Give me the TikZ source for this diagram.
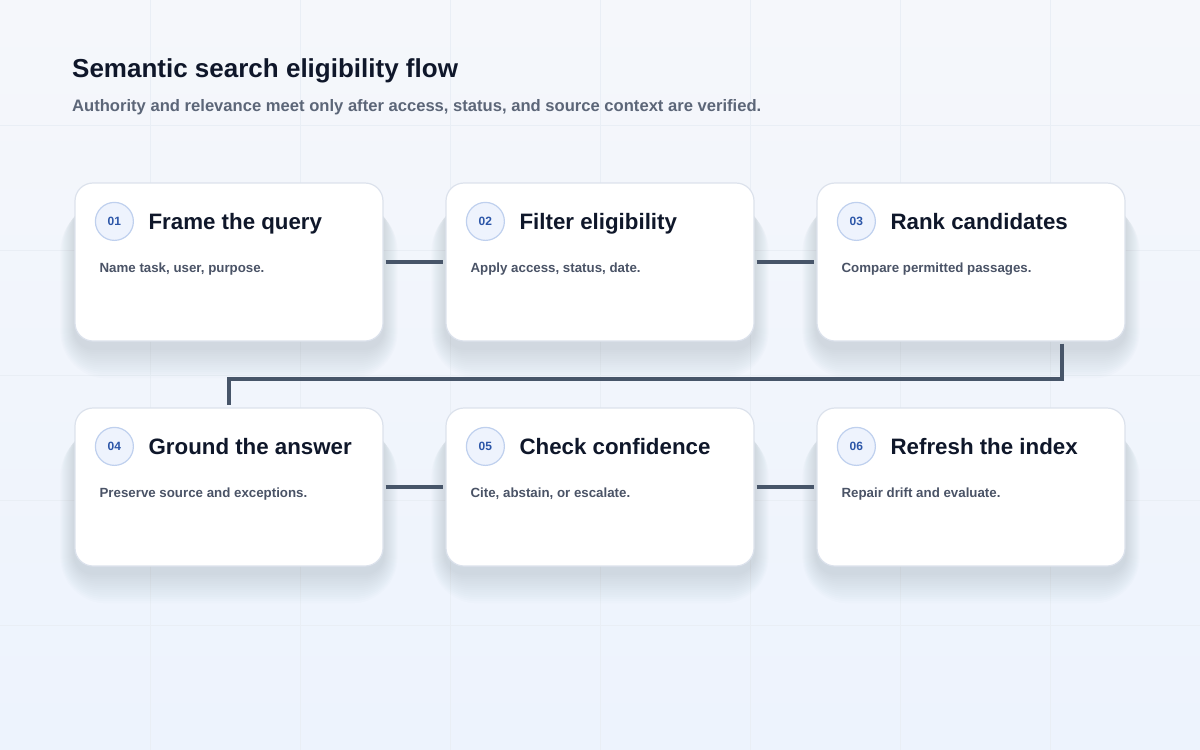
\documentclass[tikz,border=0pt]{standalone}
\usepackage{fontspec}
\setmainfont{Liberation Sans}
\usepackage{tikz}
\usetikzlibrary{positioning}
\usetikzlibrary{calc}
\usetikzlibrary{backgrounds}
\definecolor{bgtop}{HTML}{F5F7FB}
\definecolor{bgbot}{HTML}{EDF3FD}
\definecolor{gridc}{HTML}{E9EEF5}
\definecolor{ink}{HTML}{0F172A}
\definecolor{subink}{HTML}{5C6678}
\definecolor{bodyink}{HTML}{4A5366}
\definecolor{edge}{HTML}{DCE2EC}
\definecolor{slate}{HTML}{475569}
\definecolor{shadowc}{HTML}{3B4A6B}
\definecolor{numfill}{HTML}{EEF3FD}
\definecolor{numedge}{HTML}{BFD0EE}
\definecolor{numink}{HTML}{2C56A8}
\tikzstyle{link} = [draw,
line width=4pt,
color=slate]

\begin{document}
\begin{tikzpicture}[x=1pt, y=-1pt,
		card/.style={draw=edge, line width=1.2pt, fill=white, rectangle,
			rounded corners=18pt, minimum width=308pt, minimum height=158pt},
		num/.style={circle, draw=numedge, line width=1.2pt, fill=numfill,
			minimum size=38pt, inner sep=0pt, text=numink,
			font=\fontsize{12}{14}\selectfont\bfseries},
		head/.style={anchor=base west, inner sep=0pt, text=ink,
			font=\fontsize{22.3}{26}\selectfont\bfseries},
		body/.style={anchor=base west, inner sep=0pt, text=bodyink,
			font=\fontsize{13.3}{16}\selectfont\bfseries}]
		%% Backdrop
		\useasboundingbox (0,0) rectangle (1200,750);
		\begin{pgfonlayer}{background}
			\shade [top color=bgtop, bottom color=bgbot] (0,0) rectangle (1200,750);
			\foreach \gx in {150,300,...,1050} \draw [gridc, line width=0.8pt] (\gx,0) -- (\gx,750);
			\foreach \gy in {125,250,...,625} \draw [gridc, line width=0.8pt] (0,\gy) -- (1200,\gy);
		\end{pgfonlayer}
		%% Heading
		\node [anchor=base west, inner sep=0pt, text=ink, font=\fontsize{26}{30}\selectfont\bfseries] at (72,77) (title) {Semantic search eligibility flow};
		\node [anchor=base west, inner sep=0pt, text=subink, font=\fontsize{16.6}{19}\selectfont\bfseries] at (72,111) (subtitle) {Authority and relevance meet only after access, status, and source context are verified.};
		%% Cards
		\node [card] at (229,262) (Frame) {};
		\node [card] at (600,262) (Filter) {};
		\node [card] at (971,262) (Rank) {};
		\node [card] at (229,487) (Ground) {};
		\node [card] at (600,487) (Check) {};
		\node [card] at (971,487) (Refresh) {};
		%% Shadows
		\begin{pgfonlayer}{background}
			\foreach \c in {Frame,Filter,Rank,Ground,Check,Refresh}
			\foreach \k in {2,4,...,28}
			\fill [shadowc, opacity=0.011, rounded corners=18pt+\k pt]
				($(\c.north west)+(-0.5*\k,22)$) rectangle ($(\c.south east)+(0.5*\k,6+1.1*\k)$);
		\end{pgfonlayer}
		%% Card texts
		\foreach \c/\n/\h/\b in {Frame/01/Frame the query/{Name task, user, purpose.},
			Filter/02/Filter eligibility/{Apply access, status, date.},
			Rank/03/Rank candidates/{Compare permitted passages.},
			Ground/04/Ground the answer/{Preserve source and exceptions.},
			Check/05/Check confidence/{Cite, abstain, or escalate.},
			Refresh/06/Refresh the index/{Repair drift and evaluate.}}{
			\node [num] at ($(\c.north west)+(40,39)$) (\c-num) {\n};
			\node [head] at ($(\c.north west)+(74,47)$) (\c-head) {\h};
			\node [body] at ($(\c.north west)+(25,90)$) (\c-body) {\b};
		}
		%% Flows
		\path [link, shorten <=2pt, shorten >=2pt] (Frame) -- (Filter);
		\path [link, shorten <=2pt, shorten >=2pt] (Filter) -- (Rank);
		\coordinate (turn) at (229,379);
		\path [link, shorten <=2pt, shorten >=2pt] ([xshift=91pt]Rank.south) |- (turn) -- (Ground.north);
		\path [link, shorten <=2pt, shorten >=2pt] (Ground) -- (Check);
		\path [link, shorten <=2pt, shorten >=2pt] (Check) -- (Refresh);
	\end{tikzpicture}
\end{document}
